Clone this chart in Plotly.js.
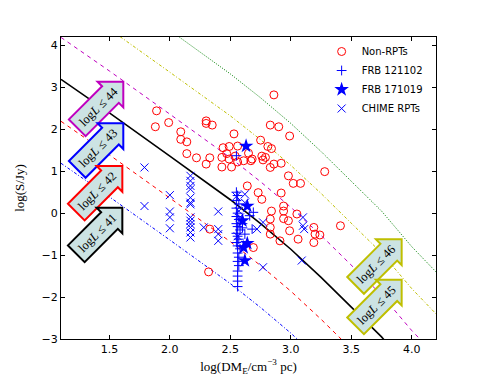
<!DOCTYPE html>
<html>
<head>
<meta charset="utf-8">
<script src="https://cdn.plot.ly/plotly-3.0.1.min.js"></script>
<style>
  html, body { margin: 0; padding: 0; background: #fff; }
  #graph { width: 485px; height: 388px; }
</style>
</head>
<body>
<div id="graph"></div>
<script>
// Constant-luminosity curves
const lineDM = [1.1, 1.5, 2.0, 2.5, 2.75, 3.0, 3.25, 3.5, 3.75, 4.0, 4.2];
const logS41 = [1.19, 0.39, -0.64, -1.68, -2.25, -2.86, -3.53, -4.23, -4.95, -5.8, -6.4];
const logS42 = [2.19, 1.39, 0.36, -0.68, -1.25, -1.86, -2.53, -3.23, -3.95, -4.8, -5.4];
const logS43 = [3.19, 2.39, 1.36, 0.32, -0.25, -0.86, -1.53, -2.23, -2.95, -3.8, -4.4];
const logS44 = [4.19, 3.39, 2.36, 1.32, 0.75, 0.14, -0.53, -1.23, -1.95, -2.8, -3.4];
const logS45 = [5.19, 4.39, 3.36, 2.32, 1.75, 1.14, 0.47, -0.23, -0.95, -1.8, -2.4];
const logS46 = [6.19, 5.39, 4.36, 3.32, 2.75, 2.14, 1.47, 0.77, 0.05, -0.8, -1.4];

// Non-repeating FRBs
const nonRptDM = [1.89, 1.88, 1.99, 2.09, 2.09, 2.14, 2.14, 2.22, 2.30, 2.30, 2.35, 2.30, 2.33, 2.43,
  2.53, 2.44, 2.49, 2.56, 2.43, 2.47, 2.49, 2.54, 2.56, 2.61, 2.65, 2.51, 2.67, 2.64,
  2.86, 2.83, 2.90, 2.99, 2.75, 2.81, 2.84, 2.68, 2.76, 2.79, 2.77, 2.86, 2.92, 2.83,
  2.98, 3.02, 3.08, 3.28, 2.73, 2.76, 2.92, 2.69, 2.84, 2.94, 2.94, 2.83, 2.98, 2.83,
  2.83, 2.91, 2.99, 3.05, 3.06, 3.19, 3.20, 3.24, 3.19, 3.41, 2.94, 2.32, 2.33];
const nonRptS = [2.44, 2.06, 2.16, 1.94, 1.76, 1.70, 1.42, 1.32, 2.20, 2.14, 2.10, 1.17, 1.32, 1.10,
  1.89, 1.56, 1.59, 1.60, 1.33, 1.42, 1.29, 1.36, 1.22, 1.25, 1.43, 1.10, 1.25, 0.65,
  2.82, 2.10, 2.06, 1.84, 1.74, 1.59, 1.54, 1.29, 1.36, 1.33, 1.27, 1.17, 1.19, 1.09,
  0.89, 0.71, 0.71, 0.99, 0.49, 0.33, 0.48, -0.82, 0.05, 0.05, -0.13, -0.14, -0.18, -0.34,
  -0.50, -0.66, -0.42, -0.02, -0.62, -0.34, -0.50, -0.52, -0.70, -0.30, 0.17, -1.40, -0.38];

// FRB 121102 bursts
const frb121102DM = [2.55, 2.55, 2.56, 2.55, 2.57, 2.55, 2.56, 2.55, 2.57, 2.55, 2.56, 2.58, 2.55,
  2.56, 2.57, 2.55, 2.56, 2.58, 2.56, 2.57, 2.56, 2.57, 2.56, 2.56, 2.56, 2.56, 2.60, 2.62,
  2.60, 2.68, 2.69, 2.66];
const frb121102S = [1.37, 0.50, 0.42, 0.30, 0.22, 0.12, 0.00, -0.08, -0.15, -0.25, -0.32, -0.40, -0.48,
  -0.55, -0.62, -0.70, -0.78, -0.85, -0.95, -1.05, -1.15, -1.25, -1.38, -1.50, -1.62, -1.75, -0.35, -0.50,
  -0.25, -0.38, 0.02, -0.06];

// FRB 171019 bursts
const frb171019DM = [2.63, 2.64, 2.60, 2.61, 2.62, 2.64];
const frb171019S = [1.60, 0.17, -0.18, -0.82, -1.13, -0.72];

// CHIME repeaters
const chimeDM = [1.79, 1.79, 2.00, 2.00, 2.00, 2.00,
  2.17, 2.17, 2.17, 2.17, 2.17, 2.17, 2.17, 2.17, 2.17, 2.17, 2.17, 2.17, 2.17,
  2.28, 2.40, 2.40, 2.40, 2.40, 2.77, 3.09, 3.10, 3.10, 3.11, 2.77, 2.72, 2.62, 2.62,
  2.55, 2.57, 2.58, 2.56];
const chimeS = [1.09, 0.17, 0.43, 0.04, -0.10, -0.36,
  0.89, 0.77, 0.65, 0.57, 0.37, 0.25, 0.21, -0.10, -0.18, -0.26, -0.34, -0.46, -0.58,
  -0.34, 0.04, -0.38, -0.50, -0.66, -1.29, -1.13, -0.10, -0.30, -0.38, -0.22, -0.38, 0.25, 0.45,
  0.40, 0.05, -0.10, -0.55];

// Luminosity arrows (tip positions in data units)
const arrowLabels = ['44', '43', '42', '41', '46', '45'];
const arrowTipX = [1.615, 1.615, 1.607, 1.607, 3.916, 3.916];
const arrowTipY = [3.134, 2.142, 1.124, 0.130, -0.624, -1.587];
const arrowEdge = ['#bf00bf', '#0000ff', '#ff0000', '#000000', '#bfbf00', '#bfbf00'];

// plot area in pixels
const M = {l: 61, r: 49, t: 37, b: 49};
const xRange = [1.1, 4.2], yRange = [-3, 4.2];
const pxPerX = (485 - M.l - M.r) / (xRange[1] - xRange[0]);
const pxPerY = (388 - M.t - M.b) / (yRange[1] - yRange[0]);

// arrow outline in pixels relative to tip (y down)
const arrowPx = [[0, 0], [0, 25.7], [-4.5, 21.2], [-37.7, 54.4], [-54.4, 37.7], [-21.2, 4.5], [-25.7, 0]];

const shapes = [];
const annotations = [];
arrowLabels.forEach((lab, i) => {
    const pts = arrowPx.map(p => [arrowTipX[i] + p[0] / pxPerX, arrowTipY[i] - p[1] / pxPerY]);
    const path = 'M' + pts.map(p => p[0].toFixed(4) + ',' + p[1].toFixed(4)).join('L') + 'Z';
    shapes.push({
        type: 'path', xref: 'x', yref: 'y', path: path,
        fillcolor: '#cce3e3', line: {color: arrowEdge[i], width: 2}, layer: 'above'
    });
    annotations.push({
        xref: 'x', yref: 'y', showarrow: false,
        x: arrowTipX[i] - 25 / pxPerX, y: arrowTipY[i] - 25 / pxPerY,
        text: 'log<i>L</i> ≤ ' + lab, textangle: -45,
        font: {family: 'Liberation Serif', size: 12.5, color: '#000'}
    });
});

const lineSets = [
    {y: logS41, color: '#0000ff', dash: '3px,2px,1px,2px', width: 1},
    {y: logS42, color: '#ff0000', dash: '4px,4px', width: 1},
    {y: logS43, color: '#000000', dash: 'solid', width: 1.6},
    {y: logS44, color: '#bf00bf', dash: '4px,4px', width: 1},
    {y: logS45, color: '#bfbf00', dash: '3px,2px,1px,2px', width: 1},
    {y: logS46, color: '#008000', dash: '1px,1.5px', width: 1}
];
const lineTraces = lineSets.map(s => ({
    x: lineDM, y: s.y, mode: 'lines', type: 'scatter', showlegend: false,
    line: {color: s.color, dash: s.dash, width: s.width}, hoverinfo: 'skip'
}));

const nonRptTrace = {
    x: nonRptDM, y: nonRptS, mode: 'markers', type: 'scatter', name: 'Non-RPTs',
    marker: {symbol: 'circle-open', size: 8, color: '#ff0000', line: {width: 1}}
};
const frb121102Trace = {
    x: frb121102DM, y: frb121102S, mode: 'markers', type: 'scatter', name: 'FRB 121102',
    marker: {symbol: 'cross-thin-open', size: 7, color: '#0000ff', line: {width: 1, color: '#0000ff'}}
};
const frb171019Trace = {
    x: frb171019DM, y: frb171019S, mode: 'markers', type: 'scatter', name: 'FRB 171019',
    marker: {symbol: 'star', size: 11, color: '#0000ff', line: {width: 0}}
};
const chimeTrace = {
    x: chimeDM, y: chimeS, mode: 'markers', type: 'scatter', name: 'CHIME RPTs',
    marker: {symbol: 'x-thin-open', size: 8, color: '#0000ff', line: {width: 1, color: '#0000ff'}}
};

const axisStyle = {
    showline: true, linecolor: '#000', linewidth: 1, mirror: 'ticks',
    ticks: 'inside', ticklen: 4, tickcolor: '#000', showgrid: false, zeroline: false,
    tickfont: {family: 'DejaVu Sans', size: 11, color: '#000'}
};

const layout = {
    width: 485, height: 388,
    margin: M,
    paper_bgcolor: '#fff', plot_bgcolor: '#fff',
    showlegend: true,
    legend: {
        x: 0.695, y: 1.0, xanchor: 'left', yanchor: 'top',
        bgcolor: 'rgba(0,0,0,0)', borderwidth: 0,
        font: {family: 'DejaVu Sans', size: 10, color: '#000'}
    },
    xaxis: Object.assign({}, axisStyle, {
        range: xRange, tickvals: [1.5, 2.0, 2.5, 3.0, 3.5, 4.0], tickformat: '.1f',
        title: {text: 'log(DM<sub>E</sub>/cm<sup>−3</sup> pc)', standoff: 6,
            font: {family: 'Liberation Serif', size: 13, color: '#000'}}
    }),
    yaxis: Object.assign({}, axisStyle, {
        range: yRange, tickvals: [-3, -2, -1, 0, 1, 2, 3, 4],
        title: {text: 'log(S/Jy)', standoff: 14,
            font: {family: 'Liberation Serif', size: 13, color: '#000'}}
    }),
    shapes: shapes,
    annotations: annotations
};

const traces = [...lineTraces, nonRptTrace, frb121102Trace, frb171019Trace, chimeTrace];
Plotly.newPlot('graph', traces, layout, {staticPlot: true});
</script>
</body>
</html>
